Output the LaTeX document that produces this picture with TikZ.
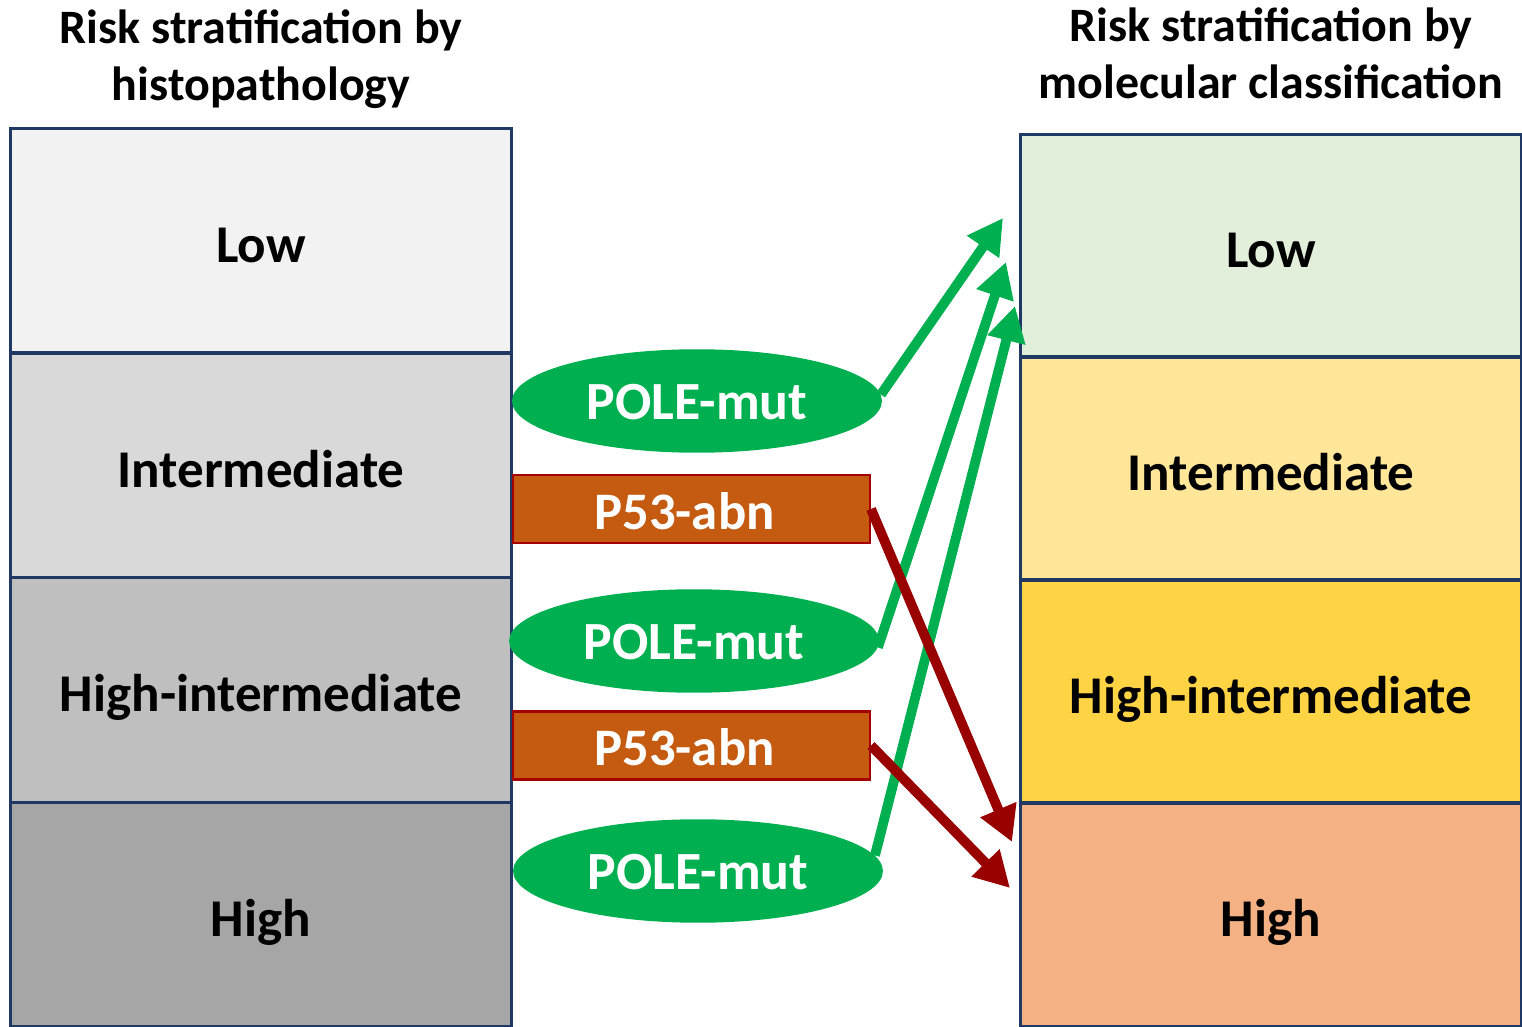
\documentclass[tikz,border=0pt]{standalone}
\usepackage{fontspec}
\setmainfont{Carlito}
\usetikzlibrary{positioning, calc}
\usetikzlibrary{shapes.geometric, arrows.meta}

\definecolor{boxline}{HTML}{203864}
\definecolor{histA}{HTML}{F2F2F2}
\definecolor{histB}{HTML}{D9D9D9}
\definecolor{histC}{HTML}{BFBFBF}
\definecolor{histD}{HTML}{A6A6A6}
\definecolor{molA}{HTML}{E2EFDA}
\definecolor{molB}{HTML}{FFE699}
\definecolor{molC}{HTML}{FFD444}
\definecolor{molD}{HTML}{F4B183}
\definecolor{polegreen}{HTML}{00B050}
\definecolor{pbrown}{HTML}{C55A11}
\definecolor{pborder}{HTML}{A50000}
\definecolor{darkred}{HTML}{990000}

\tikzset{
  riskbox/.style={draw=boxline, line width=1.7pt, minimum width=10.04cm, minimum height=4.5cm,
                  inner sep=0pt, text height=24.8pt, text depth=0pt,
                  font=\fontsize{30.2}{36}\selectfont\bfseries},
  poleell/.style={ellipse, fill=polegreen, minimum width=7.4cm, minimum height=2.07cm, inner sep=0pt,
                  text height=21.4pt, text depth=0pt,
                  text=white, font=\fontsize{30.6}{37}\selectfont\bfseries},
  p53box/.style={rectangle, fill=pbrown, draw=pborder, line width=1.2pt, minimum width=7.14cm,
                 minimum height=1.36cm, inner sep=0pt, text height=22.8pt, text depth=0pt,
                 text=white, font=\fontsize{30}{36}\selectfont\bfseries},
  headline/.style={align=center, font=\fontsize{27.3}{32.5}\selectfont\bfseries},
  goarrow/.style={polegreen, line width=5.6pt, -{Triangle[length=20pt,width=21pt]}},
  downarrow/.style={darkred, line width=5.6pt, -{Triangle[length=20pt,width=21pt]}}
}

\begin{document}
\begin{tikzpicture}[x=0.02cm, y=-0.02cm]
\useasboundingbox (0,0) rectangle (1522,1027);

% titles
\node[headline] (histtitle) at (261,59) {Risk stratification by\\histopathology};
\node[headline] (moltitle) at (1271,53) {Risk stratification by\\molecular classification};

% histopathology column
\node[riskbox, fill=histA] (hlow)  at (261,240.5) {Low};
\node[riskbox, fill=histB] (hint)  at (261,465.5) {Intermediate};
\node[riskbox, fill=histC] (hhint) at (261,690)   {High-intermediate};
\node[riskbox, fill=histD] (hhigh) at (261,914.5) {High};

% molecular column
\node[riskbox, fill=molA, minimum height=4.46cm] (mlow)  at (1271,245.5) {Low};
\node[riskbox, fill=molB, minimum height=4.46cm] (mint)  at (1271,468.5) {Intermediate};
\node[riskbox, fill=molC, minimum height=4.46cm] (mhint) at (1271,691.5) {High-intermediate};
\node[riskbox, fill=molD, minimum height=4.46cm] (mhigh) at (1271,915)   {High};

% reclassification markers
\node[poleell] (pole1) at (697,401) {POLE-mut};
\node[p53box]  (p531)  at (691.5,509) {\hspace*{-8pt}P53-abn};
\node[poleell] (pole2) at (694,641) {POLE-mut};
\node[p53box]  (p532)  at (691.5,745.5) {\hspace*{-8pt}P53-abn};
\node[poleell] (pole3) at (698,871) {POLE-mut};

\coordinate (tipA) at (1003,218);
\coordinate (tipB) at (1006,262);
\coordinate (tipC) at (1015,306);
\coordinate (tipD) at (1012,842);
\coordinate (tipE) at (1010,888);

\draw[goarrow] (pole1.2) -- (tipA);
\draw[goarrow] (pole2.-2) -- (tipB);
\draw[goarrow] (pole3.5) -- (tipC);
\draw[downarrow] (p531.east) -- (tipD);
\draw[downarrow] (p532.east) -- (tipE);
\end{tikzpicture}
\end{document}
